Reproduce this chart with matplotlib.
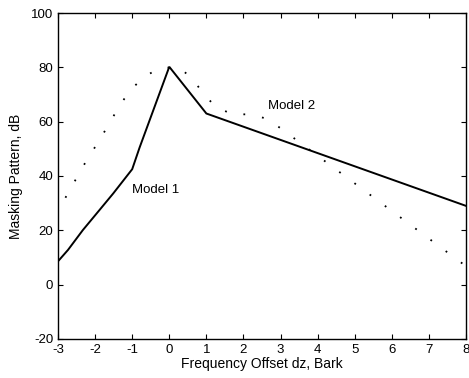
import matplotlib
matplotlib.use("Agg")
import matplotlib.pyplot as plt

plt.rcParams['font.family'] = ['Liberation Sans', 'DejaVu Sans']
plt.rcParams['axes.unicode_minus'] = False

# Model 1 (solid)
m1_x = [-3.0, -2.73, -2.33, -1.88, -1.51, -1.0, -0.8, 0.0, 1.0, 8.0]
m1_y = [8.6, 12.8, 20.1, 27.5, 33.6, 42.5, 50.5, 80.2, 63.0, 29.0]

# Model 2 (dotted)
m2_x = [-2.8, -2.3, -1.8, -1.3, -1.0, -0.65, -0.22, 0.26, 0.62, 0.91, 1.25, 1.7, 2.17, 2.6, 3.0, 8.0]
m2_y = [32.0, 44.1, 55.1, 66.8, 72.3, 76.8, 79.9, 79.9, 76.0, 70.4, 65.5, 62.7, 62.7, 61.2, 57.6, 6.8]

x_ticks = list(range(-3, 9))
y_ticks = list(range(-20, 101, 20))

fig = plt.figure(figsize=(4.69, 3.78), dpi=100)
ax = fig.add_axes([0.1237, 0.1032, 0.8699, 0.8624])

ax.plot(m1_x, m1_y, color='black', linewidth=1.4, solid_joinstyle='miter')
ax.plot(m2_x, m2_y, color='black', linewidth=1.3, linestyle=(0, (1.0, 9.5)))

ax.text(-1.0, 35, 'Model 1', fontsize=9.5, va='center', ha='left')
ax.text(2.67, 65.8, 'Model 2', fontsize=9.5, va='center', ha='left')

ax.set_xlim(-3, 8)
ax.set_ylim(-20, 100)
ax.set_xticks(x_ticks)
ax.set_yticks(y_ticks)
ax.tick_params(direction='in', top=True, right=True, labelsize=9.5, length=3.5, width=0.8)
for s in ax.spines.values():
    s.set_linewidth(1.0)
ax.set_xlabel('Frequency Offset dz, Bark', fontsize=10, labelpad=1)
ax.set_ylabel('Masking Pattern, dB', fontsize=10, labelpad=6)

fig.savefig('out.png', dpi=100)
